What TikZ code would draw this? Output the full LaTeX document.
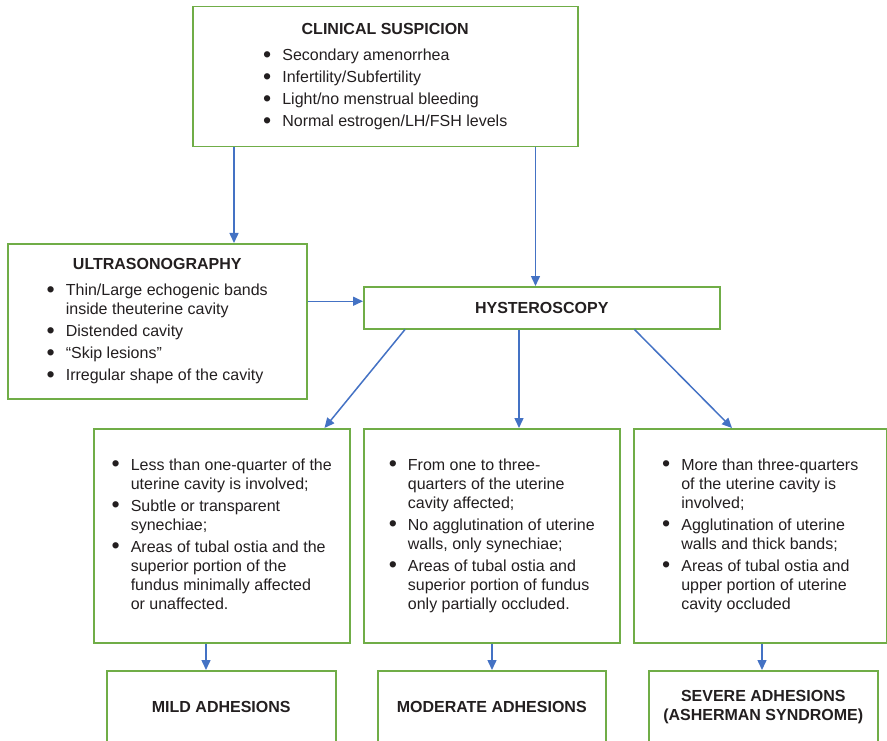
\documentclass[tikz,border=0pt]{standalone}
\usepackage{fontspec}
\setmainfont{Liberation Sans}
\usepackage{graphicx}
\usepackage{tikz}
\usetikzlibrary{arrows.meta,calc}
\definecolor{vert}{RGB}{112,173,71}
\definecolor{bleu}{RGB}{68,114,196}
\definecolor{texte}{RGB}{35,31,32}
\newcommand{\puce}{\raisebox{-0.12em}{\scalebox{1.45}{\textbullet}}}
\tikzset{
  boite/.style={draw=vert,line width=1.5pt,fill=white,anchor=north west,inner sep=0pt,text=texte,font=\fontsize{16}{19}\selectfont},
  fleche/.style={draw=bleu,line width=1.5pt,-{Triangle[length=10pt,width=9pt]}}
}

\begin{document}
\begin{tikzpicture}[x=1pt,y=-1pt]
  \useasboundingbox (0,0) rectangle (887,741);

  % boites du haut
  \node[boite,minimum width=385pt,minimum height=140pt] (clinique) at (192,6) {%
    \begin{tabular}{@{}l@{\hspace{11pt}}l@{}}
      \multicolumn{2}{c}{\bfseries CLINICAL SUSPICION}\\[7pt]
      \puce & Secondary amenorrhea\\[3pt]
      \puce & Infertility/Subfertility\\[3pt]
      \puce & Light/no menstrual bleeding\\[3pt]
      \puce & Normal estrogen/LH/FSH levels
    \end{tabular}};
  \node[boite,minimum width=299pt,minimum height=155pt] (echo) at (7,243) {%
    \begin{tabular}{@{}l@{\hspace{11pt}}l@{}}
      \multicolumn{2}{c}{\bfseries ULTRASONOGRAPHY}\\[7pt]
      \puce & Thin/Large echogenic bands\\
            & inside theuterine cavity\\[3pt]
      \puce & Distended cavity\\[3pt]
      \puce & ``Skip lesions''\\[3pt]
      \puce & Irregular shape of the cavity
    \end{tabular}};
  \node[boite,minimum width=356pt,minimum height=42pt] (hyst) at (363,286) {\bfseries HYSTEROSCOPY};

  % stades
  \node[boite,minimum width=256pt,minimum height=214pt] (legere) at (93,428) {%
    \begin{tabular}{@{}l@{\hspace{11pt}}l@{}}
      \puce & Less than one-quarter of the\\
            & uterine cavity is involved;\\[3pt]
      \puce & Subtle or transparent\\
            & synechiae;\\[3pt]
      \puce & Areas of tubal ostia and the\\
            & superior portion of the\\
            & fundus minimally affected\\
            & or unaffected.
    \end{tabular}};
  \node[boite,minimum width=256pt,minimum height=214pt] (moderee) at (363,428) {%
    \begin{tabular}{@{}l@{\hspace{11pt}}l@{}}
      \puce & From one to three-\\
            & quarters of the uterine\\
            & cavity affected;\\[3pt]
      \puce & No agglutination of uterine\\
            & walls, only synechiae;\\[3pt]
      \puce & Areas of tubal ostia and\\
            & superior portion of fundus\\
            & only partially occluded.
    \end{tabular}};
  \node[boite,minimum width=253pt,minimum height=214pt] (severe) at (633,428) {%
    \begin{tabular}{@{}l@{\hspace{11pt}}l@{}}
      \puce & More than three-quarters\\
            & of the uterine cavity is\\
            & involved;\\[3pt]
      \puce & Agglutination of uterine\\
            & walls and thick bands;\\[3pt]
      \puce & Areas of tubal ostia and\\
            & upper portion of uterine\\
            & cavity occluded
    \end{tabular}};

  % resultats
  \node[boite,minimum width=229pt,minimum height=73pt] (resleg) at (106,670) {\bfseries MILD ADHESIONS};
  \node[boite,minimum width=228pt,minimum height=73pt] (resmod) at (377,670) {\bfseries MODERATE ADHESIONS};
  \node[boite,minimum width=229pt,minimum height=73pt,align=center] (ressev) at (648,670) {\bfseries SEVERE ADHESIONS\\\bfseries (ASHERMAN SYNDROME)};

  % fleches
  \draw[fleche] ([xshift=42pt]clinique.south west) -- ([xshift=42pt]clinique.south west |- echo.north);
  \draw[fleche] ([xshift=-43pt]clinique.south east) -- ([xshift=-43pt]clinique.south east |- hyst.north);
  \draw[fleche] ([yshift=20pt]echo.east) -- ([yshift=20pt]echo.east -| hyst.west);
  \draw[fleche] ([xshift=42pt]hyst.south west) -- ([xshift=-26pt]legere.north east);
  \draw[fleche] ([xshift=156pt]hyst.south west) -- ([xshift=156pt]hyst.south west |- moderee.north);
  \draw[fleche] ([xshift=-86pt]hyst.south east) -- ([xshift=99pt]severe.north west);
  \draw[fleche] ([xshift=113pt]legere.south west) -- ([xshift=113pt]legere.south west |- resleg.north);
  \draw[fleche] ([xshift=129pt]moderee.south west) -- ([xshift=129pt]moderee.south west |- resmod.north);
  \draw[fleche] ([xshift=129pt]severe.south west) -- ([xshift=129pt]severe.south west |- ressev.north);
\end{tikzpicture}
\end{document}
